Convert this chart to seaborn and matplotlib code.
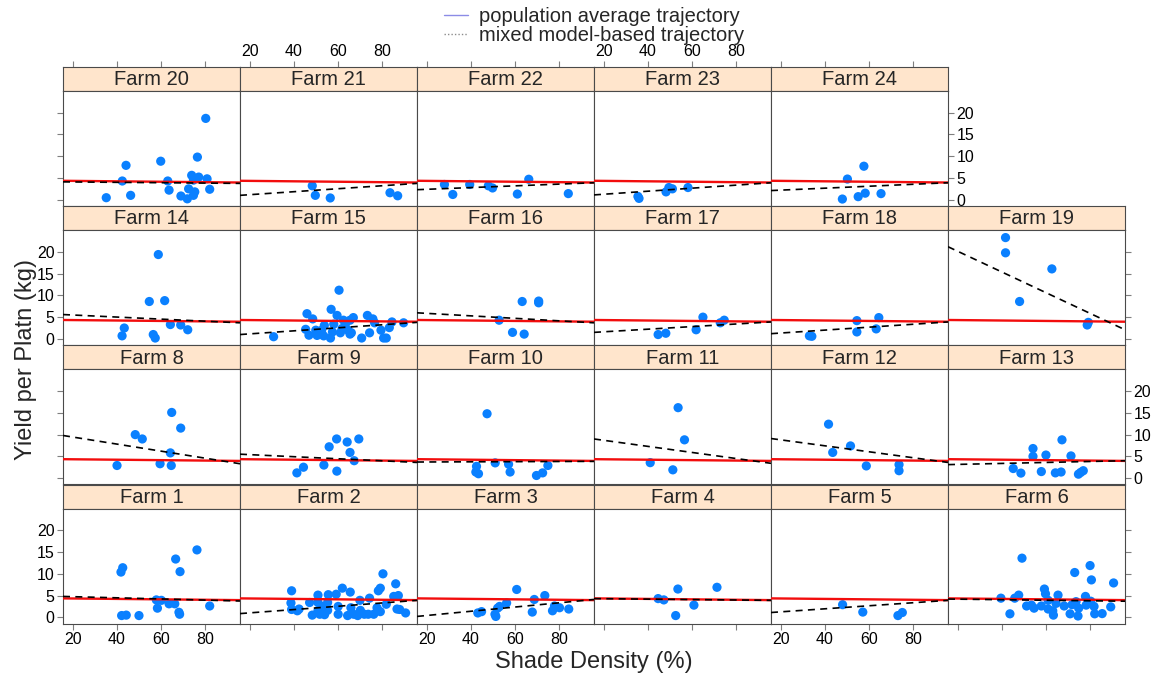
"""Lattice-style panel plot: yield per plant vs shade density, one panel per farm."""

import matplotlib

matplotlib.use("Agg")
import matplotlib.pyplot as plt
from matplotlib.lines import Line2D
import numpy as np
import pandas as pd
import seaborn as sns

# ---- data ------------------------------------------------------------------
shade_1 = [41.8, 42.6, 42.1, 44.2, 50.0, 58.4, 57.9, 60.2, 63.7, 66.3, 66.7, 68.2, 68.5, 68.7, 76.4, 82.2]
yield_1 = [10.4, 11.4, 0.4, 0.5, 0.4, 2.1, 4.0, 3.9, 3.1, 3.1, 13.4, 1.15, 0.7, 10.5, 15.5, 2.6]

shade_2 = [38.9, 38.6, 38.9, 41.5, 42.3, 47.1, 48.3, 50.9, 50.9, 50.9, 51.7, 52.9, 53.9, 55.3, 55.6,
           55.3, 59.2, 60.1, 60.1, 62.0, 64.4, 65.6, 65.9, 67.2, 69.0, 70.0, 70.2, 72.0, 73.8, 74.4,
           76.3, 77.8, 78.4, 79.3, 79.3, 80.5, 82.0, 85.4, 86.3, 87.5, 86.9, 88.1, 90.8]
yield_2 = [6.1, 3.3, 1.8, 1.5, 1.9, 3.4, 0.5, 5.1, 3.4, 1.5, 0.7, 2.5, 0.6, 1.6, 5.2,
           3.4, 5.3, 2.5, 0.7, 6.7, 0.4, 5.8, 2.2, 0.7, 0.4, 3.9, 1.6, 0.7, 0.7, 4.4,
           0.7, 2.2, 6.1, 6.7, 1.3, 10.0, 3.0, 4.8, 7.7, 5.0, 1.9, 1.8, 1.0]

shade_3 = [43.1, 44.8, 50.9, 51.3, 52.1, 53.0, 56.2, 60.8, 67.9, 68.8, 73.6, 77.1, 78.0, 80.3, 84.5]
yield_3 = [1.0, 1.3, 0.7, 0.2, 2.1, 2.5, 3.3, 6.4, 1.2, 4.1, 5.0, 1.5, 2.6, 2.2, 1.9]

shade_4 = [44.6, 47.2, 52.6, 53.6, 60.9, 71.4]
yield_4 = [4.3, 4.0, 0.4, 6.5, 2.8, 6.9]

shade_5 = [48.0, 57.2, 73.2, 75.2]
yield_5 = [2.9, 1.2, 0.4, 1.1]

shade_6 = [39.5, 43.6, 45.8, 47.6, 49.1, 51.2, 53.4, 54.6, 57.9, 59.3, 59.8, 61.0, 61.0, 63.1, 63.4,
           64.6, 65.5, 68.3, 71.0, 71.9, 73.1, 73.7, 74.9, 74.6, 78.0, 78.3, 80.1, 80.4, 80.7, 81.9,
           82.2, 85.6, 89.5, 90.8]
yield_6 = [4.4, 0.8, 4.4, 5.1, 13.6, 2.6, 2.8, 2.1, 2.6, 6.5, 5.4, 3.9, 1.9, 1.5, 0.5,
           3.2, 5.1, 2.6, 0.8, 2.9, 10.3, 3.6, 2.1, 0.3, 4.8, 2.8, 11.9, 3.7, 8.6, 2.5,
           0.8, 0.85, 2.4, 7.9]

shade_8 = [40.0, 48.3, 51.5, 59.6, 64.3, 64.9, 64.7, 69.0]
yield_8 = [2.9, 10.0, 9.0, 3.3, 5.8, 15.1, 2.9, 11.5]

shade_9 = [41.3, 44.3, 53.6, 56.0, 59.4, 59.5, 64.2, 65.5, 67.4, 69.5]
yield_9 = [1.2, 2.5, 3.0, 7.2, 9.0, 1.6, 8.3, 5.9, 4.0, 9.0]

shade_10 = [42.5, 42.2, 43.4, 47.3, 51.0, 57.1, 57.8, 69.8, 72.6, 75.0]
yield_10 = [2.7, 1.4, 1.0, 14.8, 3.5, 3.2, 1.4, 0.6, 1.2, 2.9]

shade_11 = [41.0, 51.3, 53.7, 56.6]
yield_11 = [3.55, 1.9, 16.2, 8.8]

shade_12 = [41.6, 43.5, 51.6, 58.8, 73.7, 73.7]
yield_12 = [12.4, 5.9, 7.4, 2.8, 3.1, 1.7]

shade_13 = [45.1, 48.6, 54.1, 54.1, 57.9, 60.0, 64.3, 66.9, 67.3, 71.4, 74.8, 75.8, 77.0]
yield_13 = [2.2, 1.15, 6.8, 5.0, 1.5, 5.3, 1.2, 1.4, 8.8, 5.1, 0.9, 1.3, 1.7]

shade_14 = [42.3, 43.3, 54.7, 56.5, 57.4, 58.8, 61.7, 64.3, 69.0, 72.2]
yield_14 = [0.7, 2.5, 8.6, 1.0, 0.2, 19.4, 8.8, 3.3, 3.2, 2.1]

shade_15 = [30.7, 45.9, 48.5, 45.3, 46.8, 49.9, 50.5, 52.6, 53.8, 53.5, 56.9, 56.6, 57.5, 58.1, 59.6,
            60.5, 61.1, 61.9, 62.5, 63.4, 64.6, 65.5, 66.1, 67.0, 65.5, 70.8, 73.4, 74.4, 75.9, 76.7,
            79.6, 80.8, 82.0, 83.4, 84.6, 89.9]
yield_15 = [0.5, 5.8, 4.6, 2.2, 0.85, 2.0, 0.8, 2.0, 3.1, 0.7, 6.8, 0.2, 1.6, 3.4, 5.4,
            11.2, 1.4, 2.4, 4.3, 3.4, 2.0, 1.1, 1.4, 4.9, 4.3, 0.2, 5.4, 1.4, 4.6, 3.7,
            2.0, 0.2, 0.2, 2.6, 3.9, 3.7]

shade_16 = [52.8, 58.9, 63.3, 64.2, 70.8, 70.8]
yield_16 = [4.3, 1.5, 8.6, 1.1, 8.7, 8.3]

shade_17 = [44.6, 48.1, 61.9, 65.0, 72.9, 74.7]
yield_17 = [1.0, 1.3, 2.1, 5.0, 3.7, 4.3]

shade_18 = [32.9, 34.0, 54.5, 54.5, 63.3, 64.5]
yield_18 = [0.7, 0.6, 4.2, 1.6, 2.3, 4.9]

shade_19 = [41.6, 41.6, 48.0, 62.7, 78.8, 79.3]
yield_19 = [23.3, 19.8, 8.6, 16.1, 3.2, 3.8]

shade_20 = [35.1, 42.4, 44.1, 46.2, 59.9, 63.1, 63.7, 69.1, 72.0, 72.6, 74.0, 74.8, 75.4, 74.8, 76.6,
            77.2, 80.4, 81.0, 82.2]
yield_20 = [0.46, 4.3, 7.9, 1.0, 8.85, 4.3, 2.2, 0.85, 0.2, 2.5, 5.6, 1.0, 1.8, 4.5, 9.8,
            5.2, 18.7, 4.8, 2.4]

shade_21 = [48.3, 49.7, 56.5, 83.7, 87.2]
yield_21 = [3.2, 1.0, 0.4, 1.6, 0.9]

shade_22 = [27.9, 31.7, 39.4, 47.9, 49.8, 61.1, 66.3, 84.3]
yield_22 = [3.5, 1.2, 3.5, 3.2, 2.7, 1.3, 4.7, 1.4]

shade_23 = [35.4, 35.9, 48.2, 49.5, 51.1, 58.2]
yield_23 = [0.75, 0.3, 1.8, 2.8, 2.5, 2.8]

shade_24 = [47.9, 50.2, 55.1, 57.7, 58.3, 65.5]
yield_24 = [0.15, 4.75, 0.7, 7.7, 1.5, 1.4]

farms = [1, 2, 3, 4, 5, 6, 8, 9, 10, 11, 12, 13, 14, 15, 16, 17, 18, 19, 20, 21, 22, 23, 24]
# mixed model-based trajectory: value at left and right end of the shade range
mixed_left = [4.8, 0.85, 0.2, 4.3, 1.1, 4.2, 9.8, 5.5, 3.7, 9.0, 9.1, 3.1,
              5.6, 1.0, 6.0, 1.5, 1.2, 21.2, 4.1, 1.0, 2.3, 1.1, 2.1]
mixed_right = [3.75, 3.9, 4.1, 3.9, 3.9, 3.7, 3.3, 3.6, 3.85, 3.4, 3.6, 4.0,
               3.7, 3.8, 3.7, 3.9, 3.9, 2.1, 3.75, 3.75, 3.9, 3.9, 3.9]
# population average trajectory
pop_left, pop_right = 4.35, 3.95

panel_rows = [
    [20, 21, 22, 23, 24, None],
    [14, 15, 16, 17, 18, 19],
    [8, 9, 10, 11, 12, 13],
    [1, 2, 3, 4, 5, 6],
]

XLIM = (15.4, 96.0)
YLIM = (-1.45, 25.0)
XTICKS = [20, 40, 60, 80]
YTICKS = [0, 5, 10, 15, 20]

POINT_COLOR = "#0A80FF"
RED = "#F20D0D"
STRIP_COLOR = "#FFE5CC"
FRAME_COLOR = "#4A4A4A"
TICK_COLOR = "#7F7F7F"

W, H = 1153, 675


def fig_rect(x, y, w, h):
    return [x / W, 1 - (y + h) / H, w / W, h / H]


def build_frames():
    shade = {f: globals()[f"shade_{f}"] for f in farms}
    yld = {f: globals()[f"yield_{f}"] for f in farms}
    points = pd.concat(
        [pd.DataFrame({"farm": f, "shade": shade[f], "yield": yld[f]}) for f in farms],
        ignore_index=True,
    )
    mixed = pd.DataFrame({
        "farm": np.repeat(farms, 2),
        "shade": list(XLIM) * len(farms),
        "yield": np.ravel(np.column_stack([mixed_left, mixed_right])),
    })
    pop = pd.DataFrame({"shade": list(XLIM), "yield": [pop_left, pop_right]})
    return points, mixed, pop


def style_frame(ax):
    for sp in ax.spines.values():
        sp.set_color(FRAME_COLOR)
        sp.set_linewidth(0.8)
    ax.tick_params(direction="out", length=4, width=0.8, color=TICK_COLOR,
                   labelsize=11.5, pad=2, labelcolor="black")


def main():
    sns.set_style("white")
    plt.rcParams["font.family"] = ["Liberation Sans", "DejaVu Sans"]

    points, mixed, pop = build_frames()

    fig = plt.figure(figsize=(W / 100, H / 100), dpi=100)
    n_rows = len(panel_rows)
    for r, row in enumerate(panel_rows):
        last_c = max(c for c, f in enumerate(row) if f is not None)
        for c, farm in enumerate(row):
            if farm is None:
                continue
            left = 63 + 177 * c
            top = 67 + 139.2 * r

            strip = fig.add_axes(fig_rect(left, top, 177, 24))
            strip.set_facecolor(STRIP_COLOR)
            strip.set_xlim(*XLIM)
            strip.set_ylim(0, 1)
            strip.set_yticks([])
            strip.text(0.5, 0.47, f"Farm {farm}", transform=strip.transAxes,
                       ha="center", va="center", fontsize=14.5)
            style_frame(strip)
            if r == 0:
                strip.set_xticks(XTICKS)
                strip.tick_params(axis="x", top=True, bottom=False,
                                  labeltop=(c in (1, 3)), labelbottom=False)
            else:
                strip.set_xticks([])

            ax = fig.add_axes(fig_rect(left, top + 24, 177, 115))
            ax.set_facecolor("white")
            sns.scatterplot(data=points[points["farm"] == farm], x="shade", y="yield",
                            color=POINT_COLOR, s=44, edgecolor="none", legend=False,
                            ax=ax, zorder=2)
            sns.lineplot(data=pop, x="shade", y="yield", color=RED, lw=1.7,
                         ax=ax, zorder=3)
            sns.lineplot(data=mixed[mixed["farm"] == farm], x="shade", y="yield",
                         color="black", lw=1.2, linestyle=(0, (4.2, 3.2)),
                         ax=ax, zorder=4)
            ax.set_xlim(*XLIM)
            ax.set_ylim(*YLIM)
            ax.set_xlabel("")
            ax.set_ylabel("")
            style_frame(ax)

            if r == n_rows - 1:
                ax.set_xticks(XTICKS)
                ax.tick_params(axis="x", bottom=True, labelbottom=(c in (0, 2, 4)))
            else:
                ax.set_xticks([])

            show_left = c == 0
            show_right = c == last_c
            if show_left or show_right:
                ax.set_yticks(YTICKS)
                ax.tick_params(axis="y", left=show_left, right=show_right,
                               labelleft=show_left and r in (1, 3),
                               labelright=show_right and r in (0, 2))
            else:
                ax.set_yticks([])

    fig.text(594 / W, 1 - 662 / H, "Shade Density (%)", ha="center", va="center",
             fontsize=17)
    fig.text(26 / W, 1 - 360 / H, "Yield per Platn (kg)", ha="center", va="center",
             rotation=90, fontsize=17)

    handles = [
        Line2D([], [], color="#8C8CE6", lw=1.0),
        Line2D([], [], color="#8C8C8C", lw=1.0, linestyle=(0, (1, 1.5))),
    ]
    fig.legend(handles, ["population average trajectory", "mixed model-based trajectory"],
               loc="upper center", bbox_to_anchor=(594 / W, 1 - 7 / H), frameon=False,
               fontsize=14.5, handlelength=1.2, handletextpad=0.5, labelspacing=0.0,
               borderpad=0, borderaxespad=0)

    fig.savefig("out.png", dpi=100)
    plt.close(fig)


if __name__ == "__main__":
    main()
